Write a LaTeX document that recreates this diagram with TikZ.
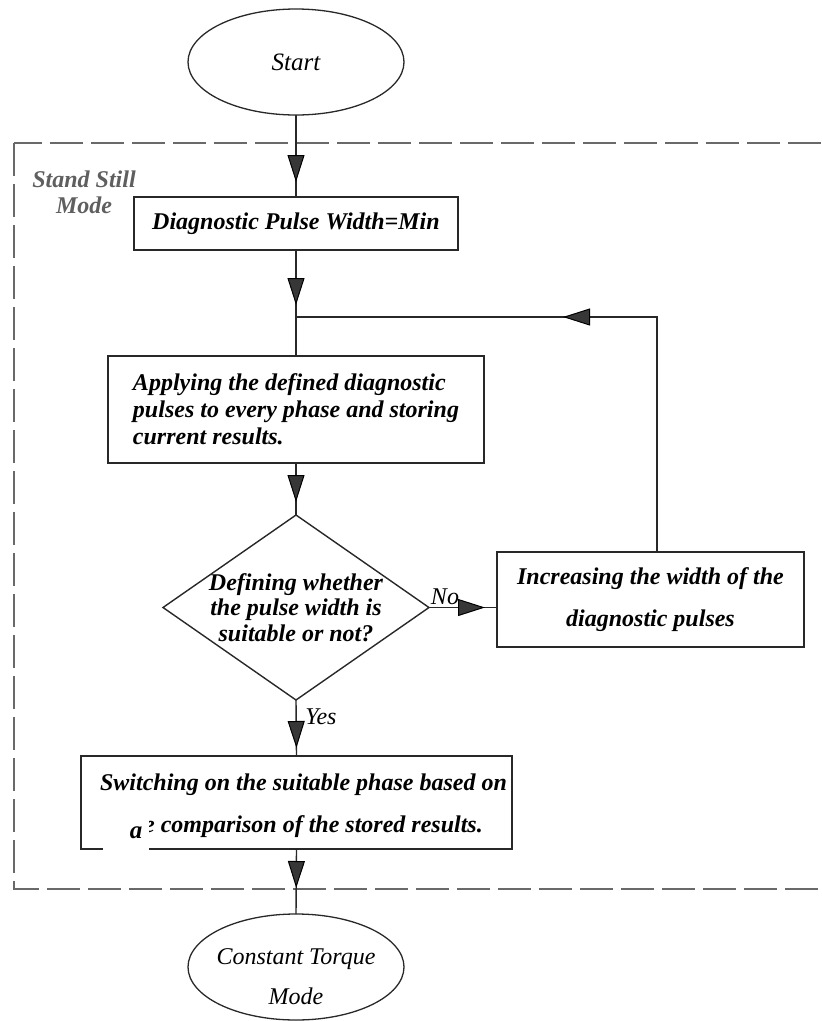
\documentclass[tikz,border=0pt]{standalone}
\usepackage{fontspec}
\setmainfont{Liberation Serif}
\usetikzlibrary{shapes.geometric,arrows.meta,decorations.markings}
\definecolor{agray}{RGB}{55,55,55}
\definecolor{framegray}{RGB}{105,105,105}
\definecolor{modegray}{RGB}{95,95,95}
\definecolor{linegray}{RGB}{40,40,40}
\begin{document}
\begin{tikzpicture}[x=1pt,y=-1pt,
  every node/.style={inner sep=0pt, outer sep=0pt},
  btxt/.style={font=\fontsize{24}{27}\selectfont\bfseries\itshape},
  itxt/.style={font=\fontsize{24}{40}\selectfont\itshape},
  box/.style={draw=linegray, line width=1.4pt, rectangle},
  oval/.style={draw=linegray, line width=1.3pt, ellipse, minimum width=216pt, minimum height=106pt},
  conn/.style={draw=linegray, line width=1.4pt},
  frame/.style={draw=framegray, line width=1.5pt, dash pattern=on 33pt off 8pt},
  midarrow/.style={postaction={decorate}, decoration={markings, mark=at position #1 with {\arrow{Triangle[length=27pt,width=17pt,fill=agray,color=black,line width=1pt]}}}},
]
\useasboundingbox (0,0) rectangle (822,1021);

% frame of the stand still mode
\draw[frame] (14,143) rectangle (840,889);
\node[font=\fontsize{24}{26}\selectfont\bfseries\itshape, text=modegray, align=center] (ssm) at (84,192) {Stand Still\\Mode};

% nodes
\node[oval, font=\fontsize{25}{30}\selectfont\itshape] (start) at (296,62) {Start};
\node[box, minimum width=324pt, minimum height=53pt, btxt] (b1) at (296,223.5) {Diagnostic Pulse Width=Min};
\node[box, minimum width=376pt, minimum height=107pt, btxt, align=left] (b2) at (296,409.5)
  {Applying the defined diagnostic\\pulses to every phase and storing\\current results.};
\node[draw=linegray, line width=1.4pt, diamond, minimum width=266pt, minimum height=185pt,
  label={[font=\fontsize{24}{25.5}\selectfont\bfseries\itshape, align=center]center:Defining whether\\the pulse width is\\suitable or not?}] (dm) at (296,607.5) {};
\node[box, minimum width=307pt, minimum height=95pt, font=\fontsize{24}{42}\selectfont\bfseries\itshape, align=center] (b3) at (650.5,599.5)
  {Increasing the width of the\\diagnostic pulses};
\node[box, minimum width=431pt, minimum height=93pt,
  label={[font=\fontsize{24}{42}\selectfont\bfseries\itshape, align=center, xshift=7pt, yshift=-3.5pt]center:Switching on the suitable phase based on\\\phantom{th}e comparison of the stored results.}] (b4) at (296.5,802.5) {};
\node[oval, label={[itxt, align=center, yshift=-10pt]center:Constant Torque\\Mode}] (end) at (296,967) {};

% labels
\node[itxt] (no) at (445,597) {No};
\node[itxt] (yes) at (321,717) {Yes};

% connectors
\coordinate (jn) at (296,317);
\coordinate (lp) at (657,317);
\draw[conn, midarrow=67pt] (start.south) -- (b1.north);
\draw[conn, midarrow=55pt] (b1.south) -- (b2.north);
\draw[conn, midarrow=39pt] (b2.south) -- (dm.north);
\draw[conn, midarrow=56pt] (dm.east) -- (dm.east -| b3.west);
\draw[conn, midarrow=329pt] (b3.north -| lp) -- (lp) -- (jn);
\draw[conn, midarrow=48pt] (dm.south) -- (b4.north);
\draw[conn, midarrow=39pt] (b4.south) -- (end.north);

% white patch with the stray letter
\node[fill=white, minimum width=46pt, minimum height=45pt, font=\fontsize{25}{27}\selectfont\bfseries\itshape] (patch) at (126,832.5) {\hspace*{20pt}a};
\end{tikzpicture}
\end{document}
